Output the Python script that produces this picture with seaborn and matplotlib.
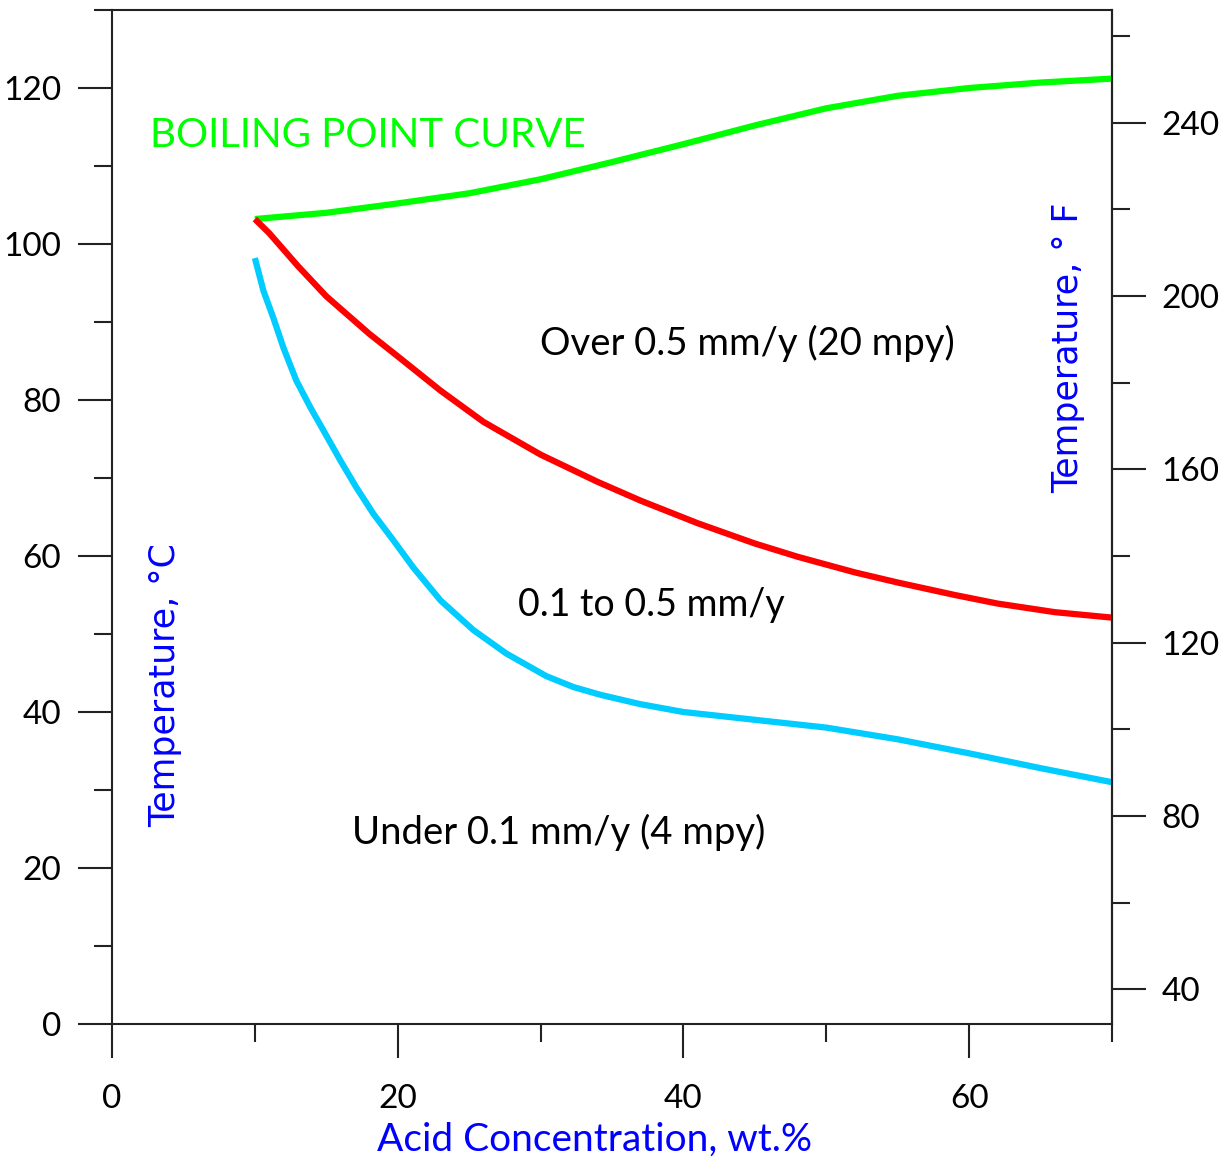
import numpy as np
import pandas as pd
import matplotlib
matplotlib.use("Agg")
import matplotlib.pyplot as plt
import seaborn as sns
from matplotlib.ticker import MultipleLocator, FixedLocator

# Boiling point curve
boil_x = [10, 15, 20, 25, 30, 35, 40, 45, 50, 55, 60, 65, 70]
boil_y = [103.2, 104.0, 105.2, 106.5, 108.3, 110.5, 112.8, 115.2, 117.4, 119.0, 120.0, 120.7, 121.2]

# 0.5 mm/y iso-corrosion line
red_x = [10, 11, 13, 15, 18, 20, 23, 26, 30, 34, 37, 41, 45, 48, 52, 55, 59, 62, 66, 70]
red_y = [103.2, 101.4, 97.2, 93.3, 88.5, 85.6, 81.2, 77.2, 73.0, 69.5, 67.1, 64.2, 61.6,
         59.9, 57.9, 56.6, 55.0, 53.9, 52.8, 52.1]

# 0.1 mm/y iso-corrosion line
cyan_x = [10, 10.6, 11.3, 12, 12.9, 13.9, 14.8, 16, 17.1, 18.3, 19.7, 21.1, 23, 25.3, 27.6,
          30.4, 32.3, 34.2, 37, 40, 45, 50, 55, 60, 65, 70]
cyan_y = [98.2, 94.0, 90.5, 86.7, 82.5, 79.0, 76.1, 72.2, 68.8, 65.4, 62.0, 58.5, 54.3, 50.5,
          47.5, 44.6, 43.2, 42.2, 41.0, 40.0, 39.0, 38.0, 36.5, 34.7, 32.8, 31.0]

sns.set_theme(style="ticks")
plt.rcParams["font.family"] = ["Lato", "DejaVu Sans"]

fig = plt.figure(figsize=(12.28, 11.61), dpi=100)
ax = fig.add_axes([112 / 1228, 137 / 1161, 1000 / 1228, 1014 / 1161])

line_kw = dict(linewidth=4.5, solid_joinstyle="round", solid_capstyle="butt")
sns.lineplot(x=boil_x, y=boil_y, color="#00FF00", ax=ax, **line_kw)
sns.lineplot(x=red_x, y=red_y, color="#FF0000", ax=ax, **line_kw)
sns.lineplot(x=cyan_x, y=cyan_y, color="#00CCFF", ax=ax, **line_kw)

ax.set_xlim(0, 70)
ax.set_ylim(0, 130)

ax.xaxis.set_major_locator(MultipleLocator(20))
ax.xaxis.set_minor_locator(FixedLocator([10, 30, 50, 70]))
ax.yaxis.set_major_locator(MultipleLocator(20))
ax.yaxis.set_minor_locator(FixedLocator([10, 30, 50, 70, 90, 110, 130]))

for sp in ax.spines.values():
    sp.set_linewidth(1.5)
    sp.set_color("#222222")

ax.tick_params(axis="both", which="major", length=24.5, width=1.5, color="#222222",
               labelsize=24, labelcolor="black")
ax.tick_params(axis="both", which="minor", length=13, width=1.5, color="#222222")
ax.tick_params(axis="x", which="major", pad=19)
ax.tick_params(axis="y", which="major", pad=12)

# Fahrenheit scale on the right
sec = ax.secondary_yaxis("right", functions=(lambda c: c * 9 / 5 + 32, lambda f: (f - 32) * 5 / 9))
sec.yaxis.set_major_locator(FixedLocator([40, 80, 120, 160, 200, 240]))
sec.yaxis.set_minor_locator(FixedLocator([60, 100, 140, 180, 220, 260]))
sec.tick_params(which="major", length=24.5, width=1.5, color="#222222", labelsize=24,
                labelcolor="black", pad=11)
sec.tick_params(which="minor", length=13, width=1.5, color="#222222")
sec.spines["right"].set_linewidth(1.5)
sec.spines["right"].set_color("#222222")

# axis labels
ax.set_xlabel("Acid Concentration, wt.%", color="#0000FF", fontsize=28)
ax.xaxis.set_label_coords(0.483, -0.114)
ax.xaxis.label.set_va("center")

ax.set_ylabel("")
ax.text(0.053, 0.334, "Temperature, °C", transform=ax.transAxes, rotation=90,
        color="#0000FF", fontsize=25, fontfamily="DejaVu Sans", ha="center", va="center")
ax.text(0.956, 0.667, "Temperature, ° F", transform=ax.transAxes, rotation=90,
        color="#0000FF", fontsize=25, fontfamily="DejaVu Sans", ha="center", va="center")

# region annotations
ax.text(2.66, 113.9, "BOILING POINT CURVE", color="#00FF00", fontsize=29, ha="left", va="center")
ax.text(29.96, 87.2, "Over 0.5 mm/y (20 mpy)", color="black", fontsize=27.5, ha="left", va="center")
ax.text(28.4, 53.7, "0.1 to 0.5 mm/y", color="black", fontsize=27, ha="left", va="center")
ax.text(16.8, 24.5, "Under 0.1 mm/y (4 mpy)", color="black", fontsize=27.5, ha="left", va="center")

fig.savefig("out.png", dpi=100)
